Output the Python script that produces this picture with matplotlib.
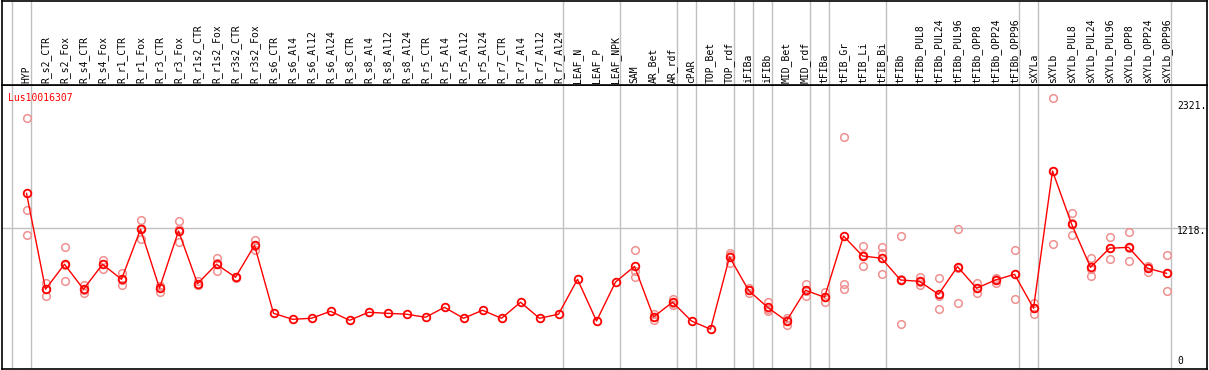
import numpy as np
from matplotlib import pyplot as plt
from matplotlib import transforms

samples = [
    "HYP", "R_s2_CTR", "R_s2_Fox", "R_s4_CTR", "R_s4_Fox", "R_r1_CTR", "R_r1_Fox",
    "R_r3_CTR", "R_r3_Fox", "R_r1s2_CTR", "R_r1s2_Fox", "R_r3s2_CTR", "R_r3s2_Fox",
    "R_s6_CTR", "R_s6_Al4", "R_s6_Al12", "R_s6_Al24", "R_s8_CTR", "R_s8_Al4",
    "R_s8_Al12", "R_s8_Al24", "R_r5_CTR", "R_r5_Al4", "R_r5_Al12", "R_r5_Al24",
    "R_r7_CTR", "R_r7_Al4", "R_r7_Al12", "R_r7_Al24", "LEAF_N", "LEAF_P", "LEAF_NPK",
    "SAM", "AR_Bet", "AR_rdf", "cPAR", "TOP_Bet", "TOP_rdf", "iFIBa", "iFIBb",
    "MID_Bet", "MID_rdf", "tFIBa", "tFIB_Gr", "tFIB_Li", "tFIB_Bi", "tFIBb",
    "tFIBb_PUL8", "tFIBb_PUL24", "tFIBb_PUL96", "tFIBb_OPP8", "tFIBb_OPP24",
    "tFIBb_OPP96", "sXYLa", "sXYLb", "sXYLb_PUL8", "sXYLb_PUL24", "sXYLb_PUL96",
    "sXYLb_OPP8", "sXYLb_OPP24", "sXYLb_OPP96",
]

# mean expression per sample
means = [
    1528, 679, 900, 679, 900, 767, 1210, 688, 1195, 728, 900, 785, 1068,
    466, 413, 422, 484, 404, 475, 466, 458, 431, 519, 422, 493, 422, 564, 422, 458,
    767, 398, 743,
    882, 434, 564, 398, 325, 965, 670, 519, 398, 670, 608,
    1150, 974, 953, 761, 749, 634, 879, 688, 761, 811,
    511, 1726, 1257, 873, 1042, 1050, 865, 820,
]

N = None
# replicate values (None where only one value exists)
rep1 = [
    2192, 735, 1053, 717, 941, 826, 1289, 708, 1280, 752, 953, 790, 1115,
    N, N, N, N, N, N, N, N, N, N, N, N, N, N, N, N,
    N, N, N,
    1024, 458, 596, N, N, 1000, 693, 564, 422, 726, 652,
    2024, 1059, 1053, 1148, 790, 776, 1212, 732, 776, 1024,
    560, 2369, 1351, 958, 1142, 1183, 888, 980,
]
rep2 = [
    1381, 617, 750, 649, 858, 717, 1121, 652, 1095, 714, 838, 780, 1024,
    N, N, N, N, N, N, N, N, N, N, N, N, N, N, N, N,
    N, N, N,
    844, 410, 540, N, N, 914, 646, 487, 363, 620, 566,
    726, 882, 997, 369, 717, 504, 555, 643, 737, 593,
    458, 1080, 1157, 799, 944, 927, 835, 661,
]
rep3 = [
    1157, 685, 897, 671, 900, 758, 1220, 704, 1210, 718, 909, 785, 1065,
    N, N, N, N, N, N, N, N, N, N, N, N, N, N, N, N,
    N, N, N,
    785, 434, 556, N, N, 981, 671, 506, 409, 664, 606,
    684, 981, 814, 766, 740, 622, 870, 689, 770, 816,
    515, 1729, 1263, 862, 1040, 1040, 872, 819,
]

# separators drawn just right of these sample indices
breaks = [-1, 0, 28, 31, 34, 35, 37, 38, 39, 41, 42, 45, 52, 53, 60]
ytick_vals = [2321, 1218, 0]
gene = "Lus10016307"

W, H = 1209, 370
MONO = "DejaVu Sans Mono"
FS = 7.0


def to_arr(vals):
    return np.array([np.nan if v is None else v for v in vals], dtype=float)


def main() -> None:
    fig = plt.figure(figsize=(W / 100, H / 100), dpi=100)
    ax = fig.add_axes([2 / W, 1 / H, 1205 / W, 284 / H])
    hx = fig.add_axes([2 / W, 285 / H, 1205 / W, 84.5 / H], sharex=ax)

    x = np.arange(len(samples))
    ax.set_xlim(-1.29, 62.13)
    ax.set_ylim(-27, 2487)
    hx.set_ylim(0, 1)

    for a in (ax, hx):
        a.set_xticks([])
        a.set_yticks([])
        for s in a.spines.values():
            s.set_color("black")
            s.set_linewidth(1.2)
        for b in breaks:
            a.axvline(b + 0.22, color="#c0c0c0", lw=1, zorder=0)

    ax.axhline(1218, color="#c0c0c0", lw=1, zorder=0)

    # header labels
    for i, name in enumerate(samples):
        hx.text(i, 0.024, name, rotation=90, ha="center", va="bottom",
                family=MONO, fontsize=FS, color="black")

    # replicates
    for rep in (rep1, rep2, rep3):
        ax.plot(x, to_arr(rep), ls="none", marker="o", ms=5.5, mfc="none",
                mec="#f09090", mew=1.1, zorder=2)

    # mean line
    ax.plot(x, means, color="red", lw=1, marker="o", ms=5.5, mfc="none",
            mec="red", mew=1.3, zorder=3)

    ax.text(-1.0, 2370, gene, color="red", family=MONO, fontsize=FS,
            ha="left", va="center")

    tr = transforms.blended_transform_factory(ax.transData, ax.transData)
    for v in ytick_vals:
        label = f"{v}." if v else "0"
        ax.text(60.55, v + (25 if v else 0), label, transform=tr, family=MONO,
                fontsize=FS, ha="left", va="top" if v else "bottom")

    fig.savefig("out.png", dpi=100)


if __name__ == "__main__":
    main()
